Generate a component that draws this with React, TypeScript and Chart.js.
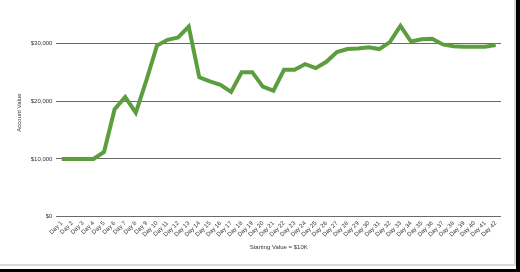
import React, { useEffect, useRef } from "react";
import { Chart, registerables } from "chart.js";

Chart.register(...registerables);

const dayLabels = [
  "Day 1", "Day 2", "Day 3", "Day 4", "Day 5", "Day 6", "Day 7", "Day 8", "Day 9", "Day 10",
  "Day 11", "Day 12", "Day 13", "Day 14", "Day 15", "Day 16", "Day 17", "Day 18", "Day 19", "Day 20",
  "Day 21", "Day 22", "Day 23", "Day 24", "Day 25", "Day 26", "Day 27", "Day 28", "Day 29", "Day 30",
  "Day 31", "Day 32", "Day 33", "Day 34", "Day 35", "Day 36", "Day 37", "Day 38", "Day 39", "Day 40",
  "Day 41", "Day 42",
];

const accountValues = [
  10000, 10000, 10000, 10000, 11200, 18600, 20700, 18000, 23600, 29600,
  30600, 31000, 32900, 24100, 23400, 22800, 21600, 25000, 25000, 22500,
  21800, 25400, 25400, 26400, 25700, 26800, 28500, 29000, 29100, 29300,
  29000, 30200, 33000, 30300, 30700, 30800, 29800, 29500, 29400, 29400,
  29400, 29700,
];

const yTickValues = [0, 10000, 20000, 30000];

const FONT = "'Liberation Sans', Arial, Helvetica, sans-serif";

export default function App() {
  const canvasRef = useRef<HTMLCanvasElement | null>(null);

  useEffect(() => {
    document.body.style.margin = "0";
    const canvas = canvasRef.current;
    if (!canvas) return;
    const chart = new Chart(canvas, {
      type: "line",
      data: {
        labels: dayLabels,
        datasets: [
          {
            label: "Account Value",
            data: accountValues,
            borderColor: "#5c9e3f",
            borderWidth: 4,
            pointRadius: 0,
            tension: 0,
            fill: false,
            borderJoinStyle: "miter",
          },
        ],
      },
      options: {
        animation: false,
        responsive: false,
        maintainAspectRatio: false,
        layout: { padding: { top: 8.6, right: 13, bottom: 0, left: 0 } },
        plugins: { legend: { display: false }, tooltip: { enabled: false } },
        scales: {
          x: {
            type: "category",
            offset: true,
            grid: { display: false, drawTicks: false },
            border: { display: false },
            ticks: {
              autoSkip: false,
              minRotation: 45,
              maxRotation: 45,
              padding: 3,
              color: "#333",
              font: { family: FONT, size: 6 },
            },
            title: {
              display: true,
              text: "Starting Value = $10K",
              color: "#333",
              font: { family: FONT, size: 6 },
              padding: { top: 0, bottom: 13.4 },
            },
            afterFit: (scale: any) => {
              scale.height = 47.3;
            },
          },
          y: {
            min: 0,
            max: 36000,
            grid: { color: "#6a6a6a", lineWidth: 1, drawTicks: false },
            border: { display: false },
            afterBuildTicks: (scale: any) => {
              scale.ticks = yTickValues.map((v) => ({ value: v }));
            },
            ticks: {
              padding: 4,
              color: "#333",
              font: { family: FONT, size: 6 },
              callback: (v: any) => "$" + Number(v).toLocaleString("en-US"),
            },
            title: {
              display: true,
              text: "Account Value",
              color: "#333",
              font: { family: FONT, size: 6 },
              padding: { top: 15.4, bottom: 0 },
            },
            afterFit: (scale: any) => {
              scale.width = 56.4;
            },
          },
        },
      },
    });
    return () => chart.destroy();
  }, []);

  return (
    <div style={{ position: "absolute", left: 0, top: 0, width: 520, height: 272, background: "#000", overflow: "hidden" }}>
      <div style={{ position: "absolute", left: 0, top: 0, width: 516, height: 269, background: "#fff" }} />
      <div style={{ position: "absolute", left: 0, top: 264, width: 514, height: 2, background: "#d9d9d9" }} />
      <div style={{ position: "absolute", left: 514, top: 0, width: 2, height: 266, background: "#d9d9d9" }} />
      <canvas ref={canvasRef} width={514} height={264} style={{ position: "absolute", left: 0, top: 0, width: 514, height: 264 }} />
    </div>
  );
}
